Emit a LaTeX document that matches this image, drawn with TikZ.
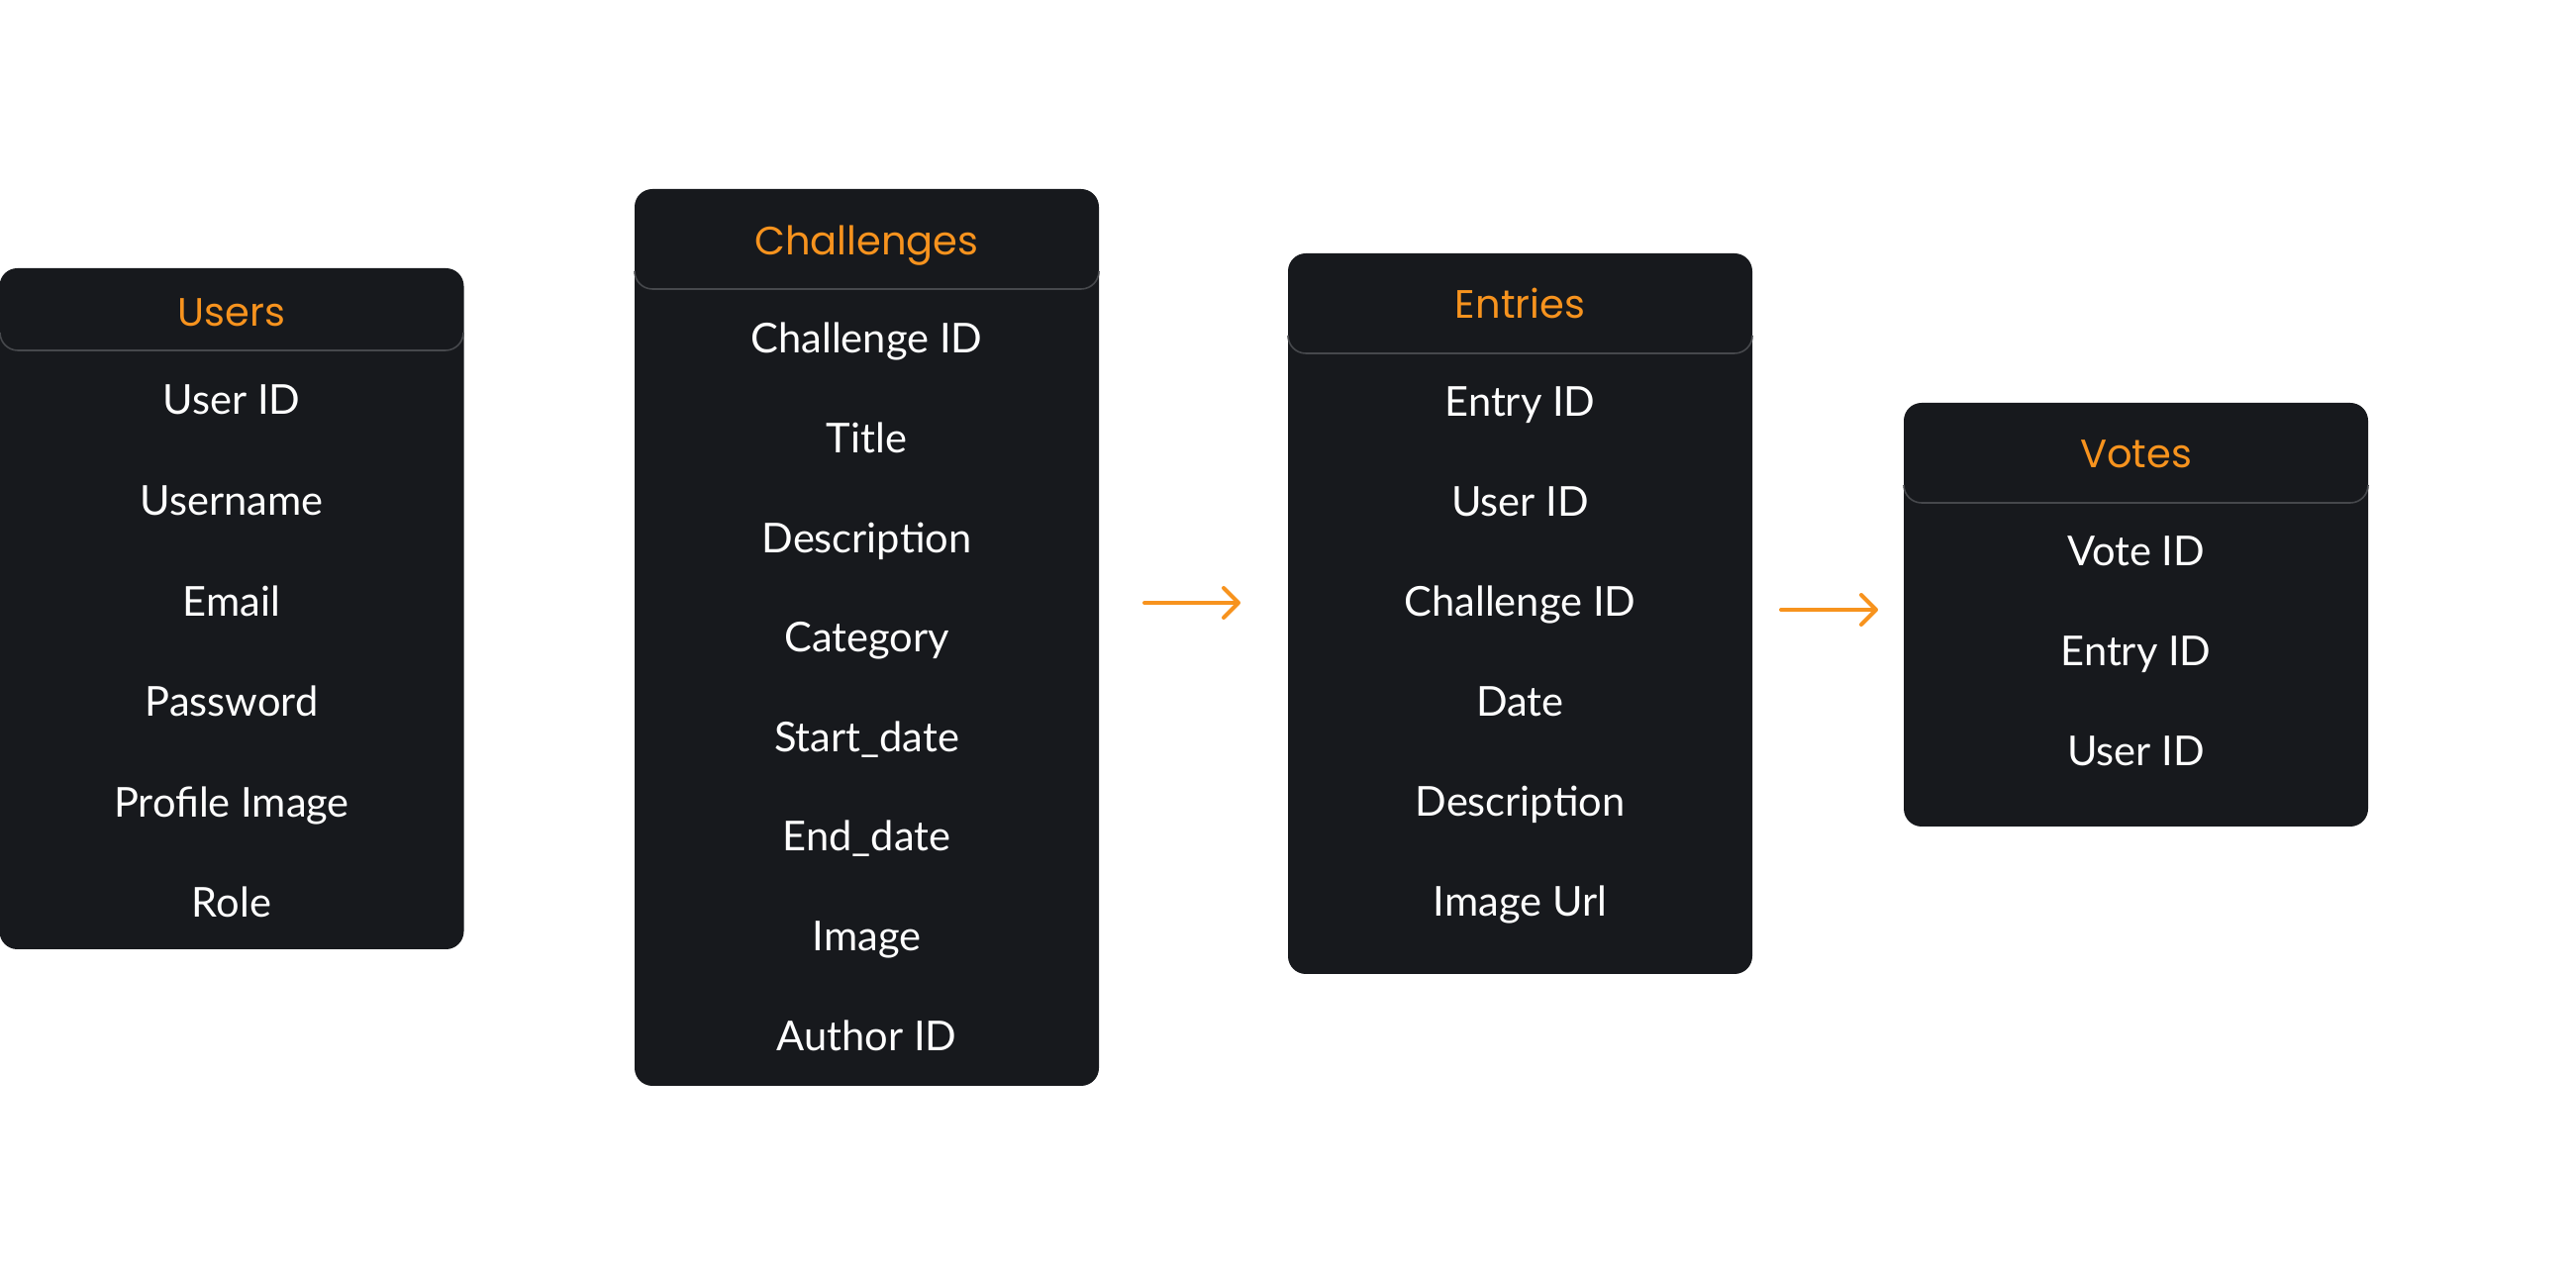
\documentclass[tikz,border=0pt]{standalone}
\usepackage{fontspec}
\setmainfont{Lato}
\newfontfamily\titlefont{Poppins}
\usetikzlibrary{arrows.meta}
\definecolor{boxbg}{HTML}{17191D}
\definecolor{accent}{HTML}{F7931E}
\definecolor{sepgray}{HTML}{46484C}
\tikzset{
  x=0.25pt, y=-0.25pt,
  tablebox/.style={fill=boxbg, rounded corners=4.5pt, minimum width=117.25pt, inner sep=0pt},
  titletext/.style={text=accent, font=\titlefont\fontsize{10pt}{12pt}\selectfont, inner sep=0pt, anchor=base, yshift=-3.75pt},
  rowtext/.style={text=white, font=\fontsize{10.4pt}{12pt}\selectfont, inner sep=0pt, anchor=base, yshift=-3.5pt},
  sepline/.style={draw=sepgray, line width=0.4pt},
  flow/.style={draw=accent, line width=1pt, line cap=round, -{Straight Barb[length=3.75pt, width=7.5pt, line cap=round, line join=round]}}
}
\begin{document}
\begin{tikzpicture}
\useasboundingbox (0,0) rectangle (2602,1281);
% boxes
\node[tablebox, minimum height=172pt] (users) at (234,615) {};
\node[tablebox, minimum height=226.5pt] (chal) at (875.5,644) {};
\node[tablebox, minimum height=182pt] (entr) at (1535.5,620) {};
\node[tablebox, minimum height=107pt] (votes) at (2157.5,621) {};
% header separators
\draw[sepline] (0,336) arc[start angle=180, end angle=90, radius=18] -- (450,354) arc[start angle=90, end angle=0, radius=18];
\draw[sepline] (641,274) arc[start angle=180, end angle=90, radius=18] -- (1092,292) arc[start angle=90, end angle=0, radius=18];
\draw[sepline] (1301,339) arc[start angle=180, end angle=90, radius=18] -- (1752,357) arc[start angle=90, end angle=0, radius=18];
\draw[sepline] (1923,490) arc[start angle=180, end angle=90, radius=18] -- (2374,508) arc[start angle=90, end angle=0, radius=18];
% titles
\node[titletext] (usersT) at (234,315) {Users};
\node[titletext] (chalT) at (875.5,243) {Challenges};
\node[titletext] (entrT) at (1535.5,307) {Entries};
\node[titletext] (votesT) at (2157.5,458) {Votes};
% rows
\foreach \t [count=\i from 0] in {User ID,Username,Email,Password,Profile Image,Role}
  \node[rowtext] (users-\i) at (234,{405+101.6*\i}) {\t};
\foreach \t [count=\i from 0] in {Challenge ID,Title,Description,Category,Start\_date,End\_date,Image,Author ID}
  \node[rowtext] (chal-\i) at (875.5,{343+100.6*\i}) {\t};
\foreach \t [count=\i from 0] in {Entry ID,User ID,Challenge ID,Date,Description,Image Url}
  \node[rowtext] (entr-\i) at (1535.5,{407+100.9*\i}) {\t};
\foreach \t [count=\i from 0] in {Vote ID,Entry ID,User ID}
  \node[rowtext] (votes-\i) at (2157.5,{558+101*\i}) {\t};
% arrows
\coordinate (a1s) at (1156,609);
\coordinate (a1e) at (1253,609);
\coordinate (a2s) at (1799,616);
\coordinate (a2e) at (1897,616);
\draw[flow] (a1s) -- (a1e);
\draw[flow] (a2s) -- (a2e);
\end{tikzpicture}
\end{document}
